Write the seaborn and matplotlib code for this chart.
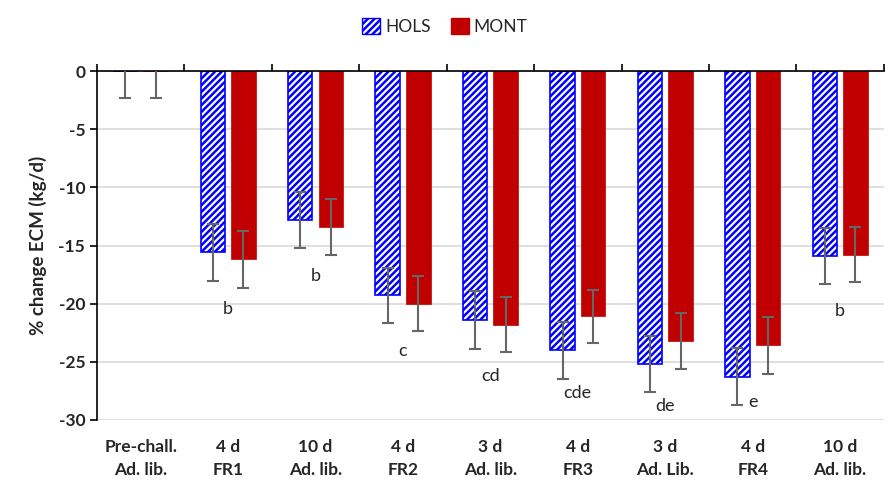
import matplotlib
matplotlib.use("Agg")
import matplotlib.pyplot as plt
from matplotlib.patches import Patch
import seaborn as sns
import pandas as pd
import numpy as np

# data
periods = ['Pre-chall.\nAd. lib.', '4 d\nFR1', '10 d\nAd. lib.', '4 d\nFR2', '3 d\nAd. lib.',
           '4 d\nFR3', '3 d\nAd. Lib.', '4 d\nFR4', '10 d\nAd. lib.']
hols = [0, -15.6, -12.8, -19.3, -21.4, -24.0, -25.2, -26.3, -15.9]
mont = [0, -16.2, -13.4, -20.0, -21.8, -21.1, -23.2, -23.6, -15.8]
hols_err = [2.3, 2.45, 2.4, 2.4, 2.5, 2.45, 2.45, 2.45, 2.4]
mont_err = [2.3, 2.45, 2.4, 2.35, 2.35, 2.3, 2.4, 2.45, 2.35]
letters = ['', 'b', 'b', 'c', 'cd', 'cde', 'de', 'e', 'b']
letter_y = [0, -20.5, -17.6, -24.1, -26.2, -27.7, -28.8, -28.5, -20.6]

n = len(periods)
period_ids = [f'P{i}' for i in range(n)]  # unique keys (two periods share a label)

df = pd.DataFrame({
    'Period': period_ids * 2,
    'Breed': ['HOLS'] * n + ['MONT'] * n,
    'Change': hols + mont,
})

sns.set_style("white")
plt.rcParams['font.family'] = ['Lato', 'DejaVu Sans']
plt.rcParams['hatch.linewidth'] = 1.8
plt.rcParams['axes.unicode_minus'] = False

fig = plt.figure(figsize=(8.9, 4.91), dpi=100)
ax = fig.add_axes([0.109, 0.145, 0.884, 0.71])

sns.barplot(data=df, x='Period', y='Change', hue='Breed', order=period_ids,
            hue_order=['HOLS', 'MONT'], palette={'HOLS': 'white', 'MONT': '#C00000'},
            saturation=1, width=0.7, gap=0.2, errorbar=None, legend=False, ax=ax, zorder=2)

for p in ax.containers[0]:
    p.set_facecolor('white')
    p.set_edgecolor('#0000FF')
    p.set_hatch('/////')
    p.set_linewidth(1.2)
for p in ax.containers[1]:
    p.set_edgecolor('#C00000')
    p.set_linewidth(0.5)

# bar centres: category index shifted by half a hue slot
xpos = np.arange(n)
for off, vals, errs in [(-0.175, hols, hols_err), (0.175, mont, mont_err)]:
    ax.errorbar(xpos + off, vals, yerr=errs, fmt='none', ecolor='#666666', elinewidth=1.5,
                capsize=4, capthick=1.5, zorder=3)

for i, (lab, y) in enumerate(zip(letters, letter_y)):
    if lab:
        ax.text(i, y, lab, ha='center', va='center', fontsize=13, zorder=4)

ax.set_ylim(-30, 0)
ax.set_xlim(-0.5, n - 0.5)
ax.set_yticks(np.arange(-30, 1, 5))
ax.yaxis.grid(True, color='#d9d9d9', linewidth=1.2, zorder=0)
ax.set_axisbelow(True)

for s in ['bottom', 'right']:
    ax.spines[s].set_visible(False)
ax.spines['top'].set_color('black')
ax.spines['left'].set_color('black')
ax.spines['top'].set_linewidth(1.2)
ax.spines['left'].set_linewidth(1.2)

ax.set_xticks(range(n))
ax.set_xticklabels(periods, fontweight='bold', fontsize=12.5, linespacing=1.5)
ax.tick_params(axis='x', which='major', length=0, pad=14)
ax.set_xticks(np.arange(-0.5, n, 1), minor=True)
ax.tick_params(axis='x', which='minor', top=True, bottom=False, direction='out',
               length=5, width=1.2, color='black')
ax.tick_params(axis='y', direction='out', length=5, width=1.2, color='black',
               labelsize=12.5, left=True)
for t in ax.get_yticklabels():
    t.set_fontweight('bold')

ax.set_xlabel('')
ax.set_ylabel('% change ECM (kg/d)', fontsize=13.5, fontweight='bold', labelpad=8)

handles = [Patch(facecolor='white', edgecolor='#0000FF', hatch='/////', label='HOLS'),
           Patch(facecolor='#C00000', edgecolor='#C00000', label='MONT')]
fig.legend(handles=handles, loc='upper center', bbox_to_anchor=(0.5, 0.995), ncol=2,
           frameon=False, fontsize=12.5, handlelength=1.0, handleheight=1.0,
           handletextpad=0.3, columnspacing=1.2)

fig.savefig('out.png', dpi=100)
